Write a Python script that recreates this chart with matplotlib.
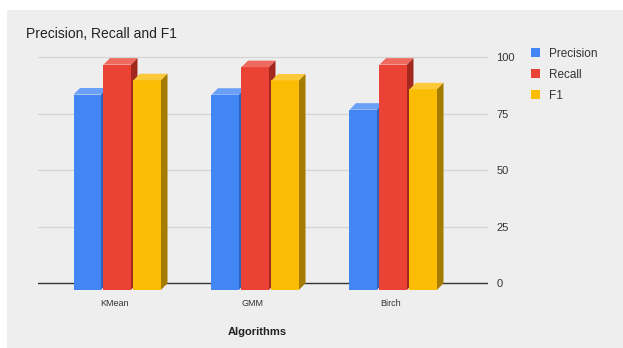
import numpy as np
import matplotlib.pyplot as plt
from matplotlib.patches import Polygon, Rectangle, Patch

plt.rcParams["font.family"] = ["Liberation Sans", "DejaVu Sans"]

algorithms = ["KMean", "GMM", "Birch"]
metrics = ["Precision", "Recall", "F1"]
precision = [86.3, 86.2, 79.6]
recall = [99.5, 98.4, 99.5]
f1 = [92.6, 92.5, 88.6]
yticks = [0, 25, 50, 75, 100]

front = ["#4285f4", "#ea4335", "#fbbc04"]
top = ["#6aa0f7", "#ee6a5f", "#fcc93a"]
side = ["#2f62bd", "#a3291f", "#a67c00"]

W, H = 623, 348
fig = plt.figure(figsize=(W / 100, H / 100), dpi=100)
fig.patch.set_facecolor("white")
# grey card behind the chart
fig.patches.append(Rectangle((7 / W, 0), 1, 1 - 10 / H, transform=fig.transFigure,
                             facecolor="#eeeeee", edgecolor="none", zorder=-10))

# axes box in pixels: x 38..488, y 50..291 (from top)
ax = fig.add_axes([38 / W, (H - 291) / H, 450 / W, 241 / H])
ax.set_facecolor("none")
for s in ax.spines.values():
    s.set_visible(False)

px_x = 138.0          # pixels per category step
px_y = 2.263          # pixels per unit on the value axis
ax.set_xlim(-77 / px_x, 373 / px_x)
ax.set_ylim(-7.7 / px_y, -7.7 / px_y + 241 / px_y)

for t in yticks[1:]:
    ax.axhline(t, color="#d4d4d4", lw=0.9, zorder=0)
ax.axhline(0, color="#333333", lw=1.0, zorder=1)

bw = 27.5 / px_x      # front face width
step = 30.0 / px_x
dx = 6.5 / px_x       # depth offset
dy = 6.5 / px_y
start = -41.5 / px_x

series = [precision, recall, f1]
for g in range(len(algorithms)):
    for i, vals in enumerate(series):
        v = vals[g]
        x0 = g + start + i * step
        z = 2 + g * 3 + i
        ax.add_patch(Polygon([(x0, -dy), (x0 + bw, -dy), (x0 + bw, v - dy), (x0, v - dy)],
                             closed=True, facecolor=front[i], edgecolor="none", zorder=z))
        ax.add_patch(Polygon([(x0, v - dy), (x0 + bw, v - dy), (x0 + bw + dx, v), (x0 + dx, v)],
                             closed=True, facecolor=top[i], edgecolor="none", zorder=z))
        ax.add_patch(Polygon([(x0 + bw, -dy), (x0 + bw + dx, 0), (x0 + bw + dx, v), (x0 + bw, v - dy)],
                             closed=True, facecolor=side[i], edgecolor="none", zorder=z))

ax.set_xticks(range(len(algorithms)))
ax.set_xticklabels(algorithms, fontsize=6.5, color="#333333")
ax.tick_params(axis="x", length=0, pad=6)
ax.yaxis.tick_right()
ax.set_yticks(yticks)
ax.set_yticklabels([str(t) for t in yticks], fontsize=8, color="#333333")
ax.tick_params(axis="y", length=0, pad=6)
for lab in ax.get_yticklabels():
    lab.set_horizontalalignment("left")

ax.set_xlabel("Algorithms", fontsize=8, fontweight="bold", color="#222222", labelpad=14)
ax.xaxis.set_label_coords((257 - 38) / 450, -(327 - 291) / 241)

fig.text(26 / W, 1 - 34 / H, "Precision, Recall and F1", fontsize=10, color="#222222",
         ha="left", va="center")

handles = [Patch(facecolor=c, edgecolor="none") for c in front]
fig.legend(handles, metrics, loc="upper left", bbox_to_anchor=(531 / W, 1 - 48 / H),
           frameon=False, fontsize=8.5, handlelength=0.8, handleheight=0.8,
           handletextpad=0.7, labelspacing=0.75, borderaxespad=0, borderpad=0,
           labelcolor="#333333")

fig.savefig("out.png", dpi=100)
